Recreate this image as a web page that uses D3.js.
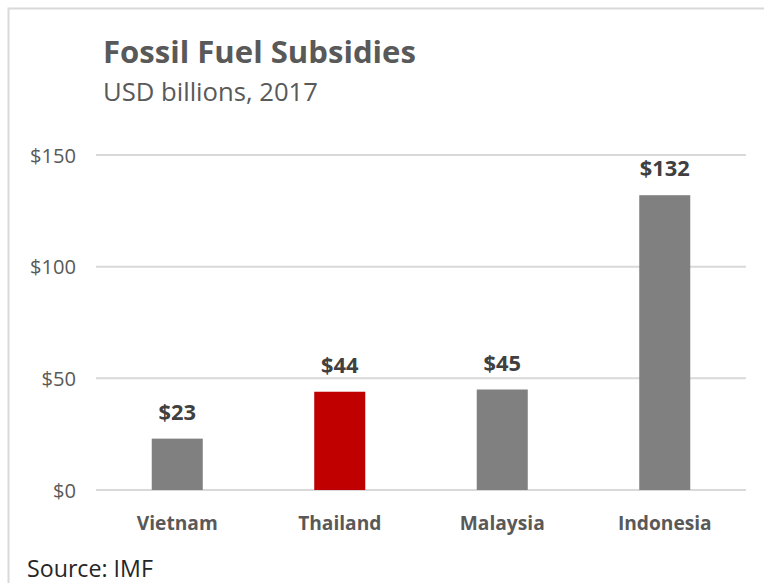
<!DOCTYPE html>
<html><head><meta charset="utf-8">
<script src="https://cdn.jsdelivr.net/npm/d3@7"></script>
<style>body{margin:0;background:#fff;} svg{display:block;}</style>
</head><body>
<script>
const categories = ["Vietnam", "Thailand", "Malaysia", "Indonesia"];
const values = [23, 44, 45, 132];
const highlight = ["Thailand"];
const yTicks = [0, 50, 100, 150];

const W = 765, H = 583;
const svg = d3.select("body").append("svg").attr("width", W).attr("height", H);
const font = "'Open Sans', sans-serif";

// scale a font size so that a reference text has the target width
function fitSize(sample, weight, target) {
  const t = svg.append("text").attr("font-family", font).attr("font-weight", weight)
    .attr("font-size", 100).text(sample);
  const w = t.node().getComputedTextLength();
  t.remove();
  return 100 * target / w;
}

// frame
svg.append("path").attr("d", "M8.5,600 L8.5,8.5 L764,8.5").attr("fill","none").attr("stroke","#d9d9d9").attr("stroke-width",2);

const x = d3.scaleBand().domain(categories).range([96, 746]).paddingInner(0.686).paddingOuter(0.343);
const y = d3.scaleLinear().domain([0, 150]).range([490, 155]);

// grid
svg.append("g").selectAll("line").data(yTicks).join("line")
  .attr("x1", 96).attr("x2", 746)
  .attr("y1", d => y(d)).attr("y2", d => y(d))
  .attr("stroke", "#d9d9d9").attr("stroke-width", 2);

// y axis labels
const tickSize = fitSize("$150", "normal", 46);
const yAxis = d3.axisLeft(y).tickValues(yTicks).tickFormat(d => "$" + d).tickSize(0).tickPadding(0);
const gy = svg.append("g").attr("transform", "translate(76,0)").call(yAxis);
gy.select(".domain").remove();
gy.selectAll("text").attr("font-family", font).attr("font-size", tickSize).attr("fill", "#595959").attr("dy", "0.35em");

// bars
svg.append("g").selectAll("rect").data(categories).join("rect")
  .attr("x", d => x(d)).attr("width", x.bandwidth())
  .attr("y", (d, i) => y(values[i])).attr("height", (d, i) => y(0) - y(values[i]))
  .attr("fill", d => highlight.includes(d) ? "#c00000" : "#808080");

// value labels
const valSize = fitSize("$132", "bold", 50);
svg.append("g").selectAll("text").data(categories).join("text")
  .attr("x", d => x(d) + x.bandwidth() / 2)
  .attr("y", (d, i) => y(values[i]) - 19)
  .attr("text-anchor", "middle")
  .attr("font-family", font).attr("font-weight", "bold").attr("font-size", valSize)
  .attr("fill", "#404040")
  .text((d, i) => "$" + values[i]);

// x axis labels
const catSize = fitSize("Vietnam", "bold", 81);
const xAxis = d3.axisBottom(x).tickSize(0).tickPadding(0);
const gx = svg.append("g").attr("transform", "translate(0,530)").call(xAxis);
gx.select(".domain").remove();
gx.selectAll("text").attr("font-family", font).attr("font-weight", "bold").attr("font-size", catSize).attr("fill", "#595959").attr("dy", 0);

// titles
svg.append("text").attr("x", 103).attr("y", 63).attr("font-family", font).attr("font-weight", "bold")
  .attr("font-size", fitSize("Fossil Fuel Subsidies", "bold", 313)).attr("fill", "#595959").text("Fossil Fuel Subsidies");
svg.append("text").attr("x", 103).attr("y", 101).attr("font-family", font)
  .attr("font-size", fitSize("USD billions, 2017", "normal", 215)).attr("fill", "#595959").text("USD billions, 2017");
svg.append("text").attr("x", 27).attr("y", 577).attr("font-family", font)
  .attr("font-size", fitSize("Source: IMF", "normal", 126)).attr("fill", "#262626").text("Source: IMF");
</script>
</body></html>
